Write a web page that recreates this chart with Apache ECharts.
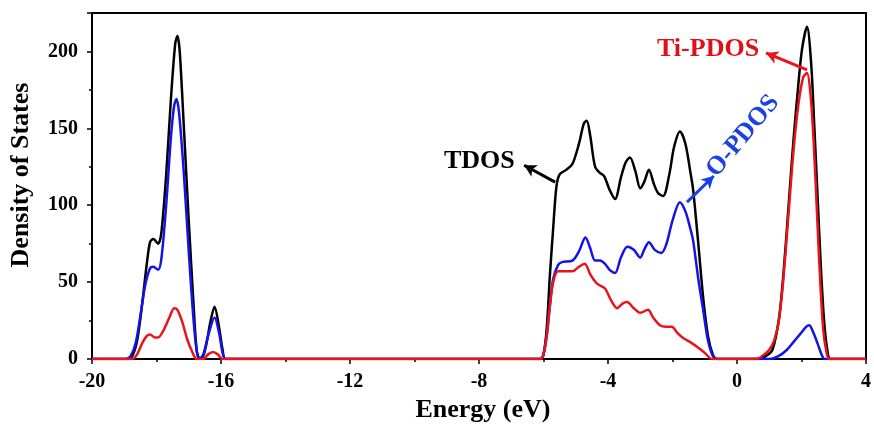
<!DOCTYPE html>
<html>
<head>
<meta charset="utf-8">
<script src="https://cdn.jsdelivr.net/npm/echarts@6/dist/echarts.min.js"></script>
<style>
  html, body { margin: 0; padding: 0; background: #fff; }
  #dos { width: 874px; height: 430px; }
</style>
</head>
<body>
<div id="dos"></div>
<script>
// TDOS / PDOS (energy in eV, DOS in states)
var tdosE = [-20, -18.9, -18.75, -18.6, -18.45, -18.3, -18.2, -18.1, -17.95, -17.85, -17.7, -17.55, -17.42, -17.35, -17.28, -17.15, -17.0, -16.85, -16.75, -16.65, -16.55, -16.45, -16.33, -16.2, -16.07, -15.95, -15.85,
  -6.1, -6.0, -5.9, -5.8, -5.7, -5.6, -5.5, -5.3, -5.1, -4.9, -4.75, -4.66, -4.55, -4.4, -4.25, -4.12, -3.95, -3.78, -3.6, -3.45, -3.32, -3.15, -3.0, -2.88, -2.73, -2.58, -2.45, -2.29, -2.1, -1.95, -1.77, -1.6, -1.45, -1.36, -1.2, -1.05, -0.9, -0.75, -0.62,
  0.65, 0.9, 1.1, 1.3, 1.45, 1.6, 1.75, 1.9, 2.02, 2.17, 2.3, 2.4, 2.5, 2.6, 2.7, 2.8, 2.9, 4]
var tdosY = [0, 0, 2, 12, 35, 62, 76, 78, 75, 82, 120, 170, 205, 210, 200, 150, 90, 35, 5, 0, 2, 10, 24, 34, 22, 6, 0,
  0, 3, 20, 55, 85, 112, 120, 123, 127, 140, 153, 155, 145, 125, 121, 119, 110, 104, 118, 128, 131, 122, 111, 115, 123, 114, 108, 106, 120, 138, 148, 140, 122, 110, 75, 40, 15, 3, 0,
  0, 2, 6, 26, 58, 100, 142, 178, 202, 216, 192, 150, 105, 60, 25, 6, 0, 0]

var oE = [-20, -18.95, -18.8, -18.65, -18.5, -18.35, -18.2, -18.1, -17.95, -17.85, -17.7, -17.55, -17.45, -17.38, -17.3, -17.15, -17.0, -16.85, -16.75, -16.68, -16.55, -16.4, -16.2, -16.05, -15.95, -15.85,
  -6.1, -6.0, -5.9, -5.8, -5.7, -5.55, -5.43, -5.1, -4.9, -4.7, -4.55, -4.4, -4.25, -4.1, -3.95, -3.78, -3.6, -3.4, -3.2, -3.0, -2.88, -2.73, -2.55, -2.35, -2.2, -2.0, -1.77, -1.6, -1.45, -1.36, -1.2, -1.05, -0.9, -0.75, -0.62,
  1.0, 1.3, 1.55, 1.75, 1.95, 2.15, 2.24, 2.35, 2.5, 2.62, 2.72, 4]
var oY = [0, 0, 2, 10, 28, 48, 59, 60, 58, 65, 100, 145, 165, 169, 160, 120, 70, 25, 5, 0, 3, 15, 27, 16, 4, 0,
  0, 3, 15, 35, 52, 61, 63, 64, 70, 79, 72, 64, 64, 62, 58, 56, 66, 73, 71, 66, 71, 76, 71, 69, 74, 90, 102, 96, 85, 77, 52, 32, 12, 2, 0,
  0, 2, 6, 11, 16, 21, 22, 18, 10, 3, 0, 0]

var tiE = [-20, -18.75, -18.6, -18.45, -18.3, -18.2, -18.05, -17.95, -17.8, -17.6, -17.45, -17.35, -17.2, -17.05, -16.9, -16.75, -16.55, -16.4, -16.25, -16.1, -15.95,
  -6.1, -6.0, -5.9, -5.8, -5.7, -5.55, -5.43, -5.1, -4.9, -4.72, -4.55, -4.34, -4.1, -3.9, -3.72, -3.55, -3.41, -3.2, -3.0, -2.76, -2.6, -2.39, -2.2, -2.02, -1.85, -1.67, -1.45, -1.24, -1.0, -0.77,
  0.6, 0.85, 1.0, 1.15, 1.3, 1.45, 1.6, 1.75, 1.9, 2.05, 2.17, 2.28, 2.38, 2.48, 2.57, 2.67, 2.77, 2.87, 4]
var tiY = [0, 0, 3, 10, 15, 16, 14, 14, 18, 27, 33, 32, 24, 13, 5, 0, 0, 3, 4.5, 3, 0,
  0, 3, 15, 35, 50, 57, 57, 57, 60, 62, 55, 49, 46, 38, 33, 36, 37, 33, 30, 32, 27, 22, 21, 21, 17, 13.6, 11, 8, 4, 0,
  0, 3, 6, 12, 25, 55, 95, 135, 165, 183, 186, 172, 140, 95, 55, 20, 5, 0, 0]

var xTicks = { min: -20, max: 4, step: 4 }
var yTicks = { min: 0, max: 225, step: 50 }

function pairs(xs, ys) {
  return xs.map(function(x, i) { return [x, ys[i]] })
}

var serif = 'Liberation Serif, Times New Roman, serif'
var chart = echarts.init(document.getElementById('dos'))

function arrow(from, to, color) {
  return {
    silent: true,
    animation: false,
    symbol: ['none', 'arrow'],
    symbolSize: [10, 12],
    label: { show: false },
    lineStyle: { color: color, width: 3, type: 'solid' },
    data: [[{ coord: from }, { coord: to }]]
  }
}

var option = {
  animation: false,
  grid: {
    left: 92, right: 8, top: 13, bottom: 71,
    show: true, borderColor: '#000', borderWidth: 2
  },
  xAxis: {
    type: 'value',
    min: xTicks.min, max: xTicks.max, interval: xTicks.step,
    name: 'Energy (eV)',
    nameLocation: 'middle',
    nameGap: 31,
    nameTextStyle: { fontFamily: serif, fontWeight: 'bold', fontSize: 26, color: '#000', padding: [0, 0, 0, 8] },
    axisLine: { onZero: false, lineStyle: { color: '#000', width: 2 } },
    axisTick: { inside: false, length: 5, lineStyle: { width: 1.5, color: '#000' } },
    minorTick: { show: true, splitNumber: 2, length: 3, lineStyle: { width: 1.5, color: '#000' } },
    axisLabel: { margin: 13, fontFamily: serif, fontWeight: 'bold', fontSize: 20, color: '#000' },
    splitLine: { show: false }
  },
  yAxis: {
    type: 'value',
    min: yTicks.min, max: yTicks.max, interval: yTicks.step,
    name: 'Density of States',
    nameLocation: 'middle',
    nameGap: 58,
    nameTextStyle: { fontFamily: serif, fontWeight: 'bold', fontSize: 26, color: '#000', padding: [0, 0, 0, 22] },
    axisLine: { show: true, onZero: false, lineStyle: { color: '#000', width: 2 } },
    axisTick: { show: true, inside: false, length: 5, lineStyle: { width: 1.5, color: '#000' } },
    minorTick: { show: true, splitNumber: 2, length: 3, lineStyle: { width: 1.5, color: '#000' } },
    axisLabel: { margin: 14, showMaxLabel: false, fontFamily: serif, fontWeight: 'bold', fontSize: 20, color: '#000' },
    splitLine: { show: false }
  },
  series: [
    {
      name: 'TDOS', type: 'line', data: pairs(tdosE, tdosY),
      showSymbol: false, smooth: 0.3,
      lineStyle: { color: '#000', width: 2.5 },
      markLine: arrow([-5.64, 115], [-6.6, 126], '#000')
    },
    {
      name: 'O-PDOS', type: 'line', data: pairs(oE, oY),
      showSymbol: false, smooth: 0.3,
      lineStyle: { color: '#1414e6', width: 2.5 },
      markLine: arrow([-1.55, 102], [-0.72, 119], '#1a40e8')
    },
    {
      name: 'Ti-PDOS', type: 'line', data: pairs(tiE, tiY),
      showSymbol: false, smooth: 0.3,
      lineStyle: { color: '#e8141c', width: 2.5 },
      markLine: arrow([2.17, 188], [0.9, 199], '#e8141c')
    }
  ],
  graphic: [
    {
      type: 'text', left: 444, top: 148,
      style: { text: 'TDOS', fill: '#000', font: 'bold 26px ' + serif }
    },
    {
      type: 'text', left: 657, top: 36,
      style: { text: 'Ti-PDOS', fill: '#e01018', font: 'bold 26px ' + serif }
    },
    {
      type: 'text', x: 743, y: 136, rotation: 50 * Math.PI / 180,
      style: { text: 'O-PDOS', fill: '#1a40e8', font: 'bold 26px ' + serif, align: 'center', verticalAlign: 'middle' }
    }
  ]
}
chart.setOption(option)
</script>
</body>
</html>
